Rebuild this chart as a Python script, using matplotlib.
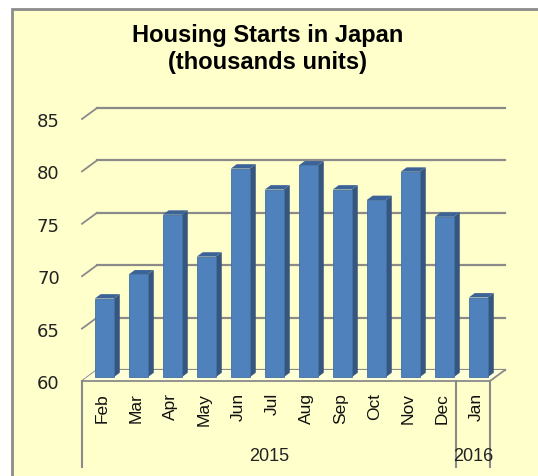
import numpy as np
import matplotlib.pyplot as plt
from matplotlib.patches import Polygon, Rectangle

months = ['Feb', 'Mar', 'Apr', 'May', 'Jun', 'Jul', 'Aug', 'Sep', 'Oct', 'Nov', 'Dec', 'Jan']
years = ['2015'] * 11 + ['2016']
starts = [67.5, 69.8, 75.5, 71.5, 79.9, 77.9, 80.2, 77.9, 76.9, 79.6, 75.3, 67.6]
y_ticks = [60, 65, 70, 75, 80, 85]

W, H = 538, 477
fig = plt.figure(figsize=(W / 100, H / 100), dpi=100, facecolor='white')

# chart area (cut at the right and bottom like the screenshot)
fig.patches.append(Rectangle((12 / W, -0.05), 1.1, 1 - 10 / H + 0.05, transform=fig.transFigure,
                             facecolor='#FFFFCC', edgecolor='#8C8C8C', lw=2, zorder=-1))

ax = fig.add_axes([82 / W, (H - 382) / H, 408 / W, 262 / H])
ax.set_facecolor('none')
ax.set_xlim(-0.5, len(months) - 0.5)
ax.set_ylim(y_ticks[0], y_ticks[-1])
for s in ax.spines.values():
    s.set_visible(False)

# depth vector of the 3d box, in data units
DX, DY = 15 / 34, 11 / 10.48
x0, x1 = -0.5, len(months) - 0.5
grid_c = '#8A8A8A'

for yv in y_ticks:
    ax.plot([x0 + DX, x1 + DX], [yv + DY, yv + DY], color=grid_c, lw=1.6, clip_on=False, zorder=1)
    ax.plot([x0, x0 + DX], [yv, yv + DY], color=grid_c, lw=1.3, clip_on=False, zorder=1)

# floor
base = y_ticks[0]
ax.add_patch(Polygon([(x0, base), (x1, base), (x1 + DX, base + DY), (x0 + DX, base + DY)],
                     closed=True, facecolor='#FFFFD8', edgecolor='none', zorder=1, clip_on=False))
ax.plot([x0, x1, x1 + DX], [base, base, base + DY], color=grid_c, lw=1.3, clip_on=False, zorder=2)

# bars
x = np.arange(len(months))
vals = np.array(starts)
d0, d1 = 0.35, 0.75
w = 0.56
ddx, ddy = (d1 - d0) * DX, (d1 - d0) * DY
ax.bar(x + d0 * DX, vals - base, bottom=base + d0 * DY, width=w, color='#4F81BD',
       edgecolor='#42709F', lw=0.6, zorder=4, clip_on=False)
for xi, v in zip(x, vals):
    xl = xi + d0 * DX - w / 2
    xr = xi + d0 * DX + w / 2
    bot = base + d0 * DY
    top = v + d0 * DY
    ax.add_patch(Polygon([(xr, bot), (xr, top), (xr + ddx, top + ddy), (xr + ddx, bot + ddy)],
                         closed=True, facecolor='#36567F', edgecolor='none', zorder=3, clip_on=False))
    ax.add_patch(Polygon([(xl, top), (xr, top), (xr + ddx, top + ddy), (xl + ddx, top + ddy)],
                         closed=True, facecolor='#3C6398', edgecolor='none', zorder=3, clip_on=False))

ax.set_yticks(y_ticks)
ax.set_yticklabels([str(t) for t in y_ticks], fontsize=13, family='DejaVu Sans', color='#222222')
ax.tick_params(axis='y', length=0, pad=16)
ax.set_xticks(x + 0.1)
ax.set_xticklabels(months, rotation=90, fontsize=12.5, family='Liberation Sans', color='#111111', va='top')
ax.tick_params(axis='x', length=0, pad=8)

# year grouping under the month labels
px_y = 10.48
low = base - 86 / px_y
bounds = [x0] + [i + 0.5 for i in range(len(years) - 1) if years[i] != years[i + 1]] + [x1]
for b in bounds:
    ax.plot([b, b], [base, low], color=grid_c, lw=1.5, clip_on=False, zorder=2)
for a, b in zip(bounds[:-1], bounds[1:]):
    ax.text((a + b) / 2, base - 75 / px_y, years[int(a + 0.5)], ha='center', va='center',
            fontsize=13, family='Liberation Sans', color='#222222')

fig.text(268 / W, 1 - 49 / H, 'Housing Starts in Japan\n(thousands units)', ha='center', va='center',
         fontsize=17, fontweight='bold', family='Liberation Sans', linespacing=1.2)

fig.savefig('out.png', dpi=100, facecolor=fig.get_facecolor())
